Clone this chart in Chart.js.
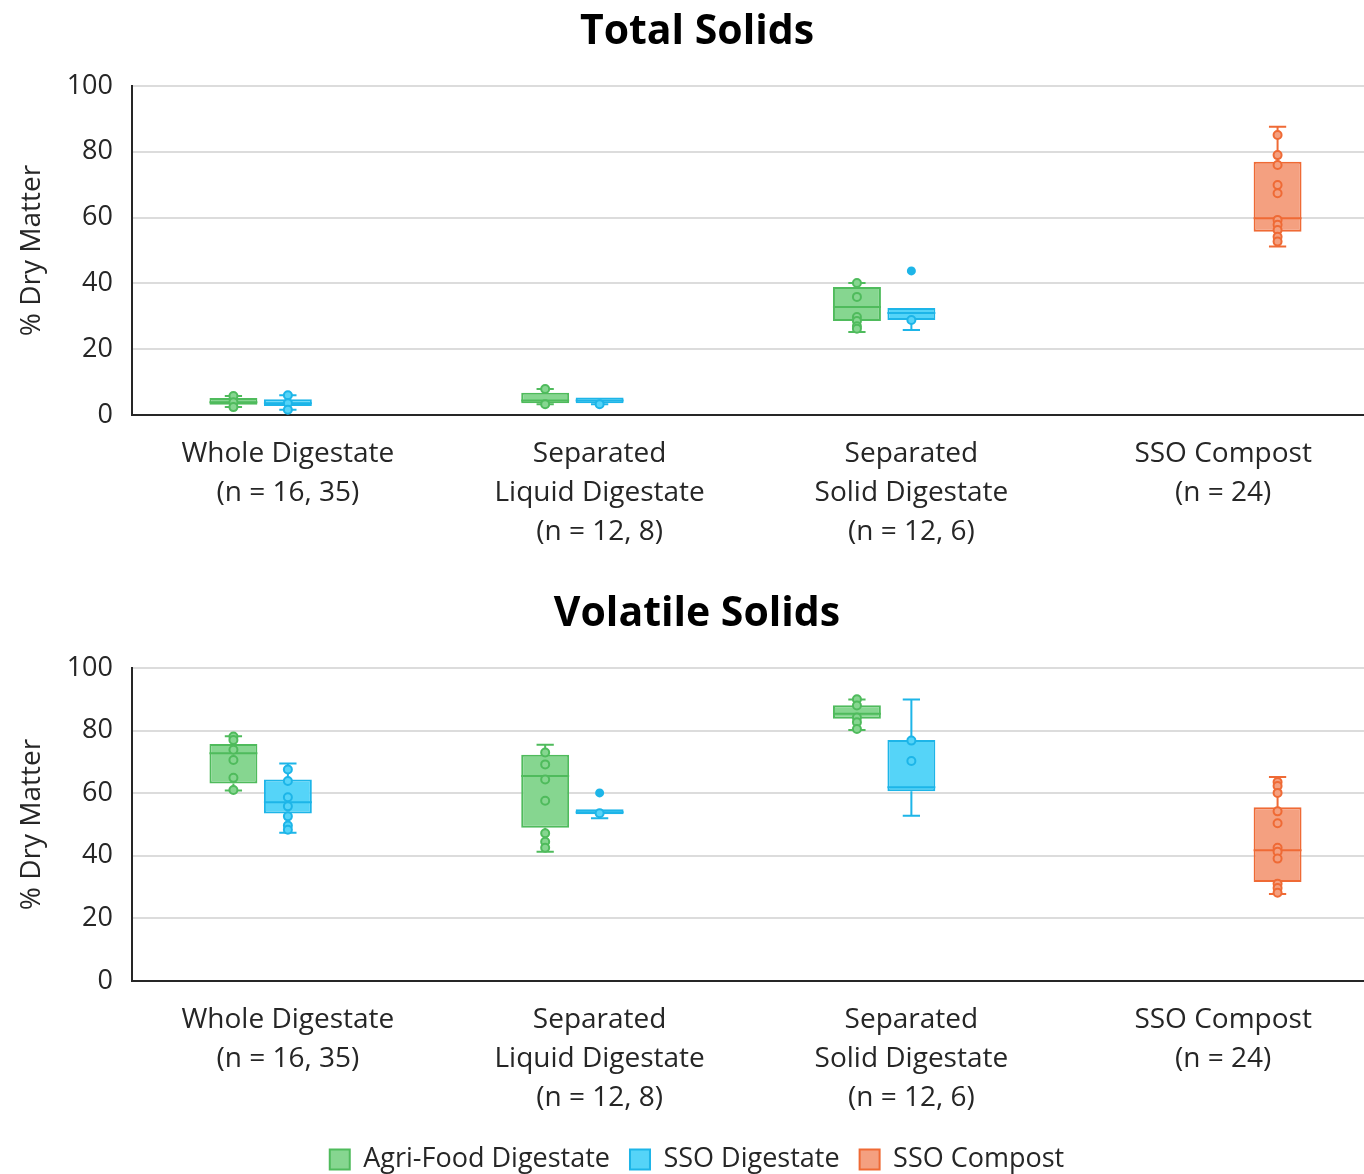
<!DOCTYPE html>
<html>
<head>
<meta charset="utf-8">
<script src="https://cdn.jsdelivr.net/npm/chart.js@4.4.0/dist/chart.umd.min.js"></script>
<style>
  html, body { margin:0; padding:0; background:#fff; overflow:hidden; width:1364px; height:1174px; }
  canvas { position:absolute; left:0; display:block; }
  #tsChart { top:0; }
  #vsChart { top:582px; }
</style>
</head>
<body>
<canvas id="tsChart" width="1380" height="580"></canvas>
<canvas id="vsChart" width="1380" height="604"></canvas>
<script>
const categories = [
  ['Whole Digestate', '(n = 16, 35)'],
  ['Separated', 'Liquid Digestate', '(n = 12, 8)'],
  ['Separated', 'Solid Digestate', '(n = 12, 6)'],
  ['SSO Compost', '(n = 24)']
];
const seriesNames = ['Agri-Food Digestate', 'SSO Digestate', 'SSO Compost'];

// box stats per category: [min, q1, median, q3, max]
const tsAgriBox = [[2.4, 3.1, 3.9, 5.2, 5.8], [3.3, 3.6, 4.4, 6.8, 7.9], [25.2, 28.6, 32.8, 38.9, 40.1], null];
const tsSsoBox  = [[1.6, 2.7, 3.6, 4.8, 6.0], [3.3, 3.6, 4.4, 5.3, 5.3], [25.8, 28.9, 31.0, 32.5, 32.5], null];
const tsCompBox = [null, null, null, [51.2, 55.7, 59.8, 77.0, 87.6]];
const tsAgriPts = [[5.8, 3.9, 2.4], [7.9, 3.3], [40.1, 35.9, 29.8, 28.6, 27.0, 26.2], []];
const tsSsoPts  = [[6.0, 3.6, 1.6], [3.3], [28.9], []];
const tsCompPts = [[], [], [], [85.1, 79.0, 76.0, 69.9, 67.4, 59.3, 57.8, 56.2, 54.2, 52.7]];
const tsSsoOut  = [[], [], [43.8], []];

const vsAgriBox = [[60.9, 63.1, 72.8, 75.7, 78.2], [41.3, 49.0, 65.5, 72.3, 75.5], [80.2, 83.8, 85.4, 88.1, 89.9], null];
const vsSsoBox  = [[47.4, 53.5, 57.1, 64.4, 69.5], [52.0, 53.3, 53.9, 54.9, 54.9], [52.8, 60.6, 61.9, 77.0, 89.9], null];
const vsCompBox = [null, null, null, [27.8, 31.6, 41.8, 55.5, 65.2]];
const vsAgriPts = [[78.1, 77.0, 73.9, 70.6, 64.9, 61.0], [73.0, 69.2, 64.4, 57.6, 47.2, 44.5, 42.6], [90.0, 88.0, 84.2, 82.7, 80.5], []];
const vsSsoPts  = [[67.6, 63.9, 58.7, 55.8, 52.6, 49.7, 48.3], [53.6], [76.8, 70.3], []];
const vsCompPts = [[], [], [], [63.6, 62.3, 60.1, 54.2, 50.4, 42.6, 41.3, 39.1, 31.1, 29.7, 28.2]];
const vsSsoOut  = [[], [60.1], [], []];

const borderCols = ['#4fbb5c', '#1db5e8', '#ef6a35'];
const fillCols = ['#86d690', '#55d4f8', '#f4a080'];
const textCol = '#262626';
const font = 'Open Sans';

// draws whiskers, medians and the individual points on top of the floating bars
const boxExtras = {
  id: 'boxExtras',
  afterDatasetsDraw(chart){
    const ctx = chart.ctx;
    const y = chart.scales.y;
    chart.data.datasets.forEach((ds, di)=>{
      const meta = chart.getDatasetMeta(di);
      meta.data.forEach((bar, i)=>{
        const s = ds.stats[i];
        if(!s) return;
        const x = bar.x, w = bar.width, cap = w*0.36;
        const p = v => y.getPixelForValue(v);
        ctx.save();
        ctx.strokeStyle = ds.borderColor;
        ctx.lineWidth = 2;
        ctx.beginPath();
        ctx.moveTo(x, p(s[3])); ctx.lineTo(x, p(s[4]));
        ctx.moveTo(x, p(s[1])); ctx.lineTo(x, p(s[0]));
        if(s[4] > s[3]){ ctx.moveTo(x-cap/2, p(s[4])); ctx.lineTo(x+cap/2, p(s[4])); }
        if(s[0] < s[1]){ ctx.moveTo(x-cap/2, p(s[0])); ctx.lineTo(x+cap/2, p(s[0])); }
        ctx.moveTo(x-w/2, p(s[2])); ctx.lineTo(x+w/2, p(s[2]));
        ctx.stroke();
        (ds.points[i]||[]).forEach(v=>{
          ctx.beginPath();
          ctx.arc(x, p(v), 4, 0, Math.PI*2);
          ctx.fillStyle = ds.backgroundColor;
          ctx.fill();
          ctx.stroke();
        });
        (ds.outliers[i]||[]).forEach(v=>{
          ctx.beginPath();
          ctx.arc(x, p(v), 4.5, 0, Math.PI*2);
          ctx.fillStyle = ds.borderColor;
          ctx.fill();
        });
        ctx.restore();
      });
    });
  }
};

function makeDs(idx, boxes, pts, outs){
  return {
    label: seriesNames[idx],
    data: boxes.map(b => b ? [b[1], b[3]] : null),
    stats: boxes, points: pts, outliers: outs,
    backgroundColor: fillCols[idx], borderColor: borderCols[idx],
    borderWidth: 2, borderSkipped: false,
    categoryPercentage: 0.524, barPercentage: 0.88
  };
}

function makeChart(id, title, datasets, xHeight, showLegend, padBottom){
  return new Chart(document.getElementById(id), {
    type: 'bar',
    data: { labels: categories, datasets },
    plugins: [boxExtras],
    options: {
      responsive: false, animation: false,
      layout: { padding: { left: 15, right: 1, top: 0, bottom: padBottom } },
      plugins: {
        title: { display: true, text: title, color: '#000',
          font: { family: font, size: 41, weight: 'bold', lineHeight: 1.2 },
          padding: { top: 7.4, bottom: 29.4 } },
        legend: { display: showLegend, position: 'bottom',
          labels: { color: textCol, font: { family: font, size: 27 }, boxWidth: 20, boxHeight: 20, padding: 20 } },
        tooltip: { enabled: false }
      },
      scales: {
        x: {
          grid: { display: false, drawTicks: false },
          border: { display: true, color: textCol, width: 2 },
          ticks: { color: textCol, padding: 20, maxRotation: 0, autoSkip: false,
            font: { family: font, size: 28, lineHeight: '39px' } },
          afterFit(scale){ scale.height = xHeight; }
        },
        y: {
          min: 0, max: 100,
          grid: { color: c => c.tick && c.tick.value === 0 ? 'rgba(0,0,0,0)' : '#dcdcdc', lineWidth: 2, drawTicks: false },
          border: { display: true, color: textCol, width: 2 },
          ticks: { stepSize: 20, color: textCol, padding: 19, font: { family: font, size: 27 } },
          title: { display: true, text: '% Dry Matter', color: textCol,
            font: { family: font, size: 28, lineHeight: 1.2 }, padding: { top: 0, bottom: 0 } },
          afterFit(scale){ scale.width = 117; }
        }
      }
    }
  });
}

makeChart('tsChart', 'Total Solids', [
  makeDs(0, tsAgriBox, tsAgriPts, [[],[],[],[]]),
  makeDs(1, tsSsoBox, tsSsoPts, tsSsoOut),
  makeDs(2, tsCompBox, tsCompPts, [[],[],[],[]])
], 165, false, 0);

makeChart('vsChart', 'Volatile Solids', [
  makeDs(0, vsAgriBox, vsAgriPts, [[],[],[],[]]),
  makeDs(1, vsSsoBox, vsSsoPts, vsSsoOut),
  makeDs(2, vsCompBox, vsCompPts, [[],[],[],[]])
], 145, true, 3);
</script>
</body>
</html>
